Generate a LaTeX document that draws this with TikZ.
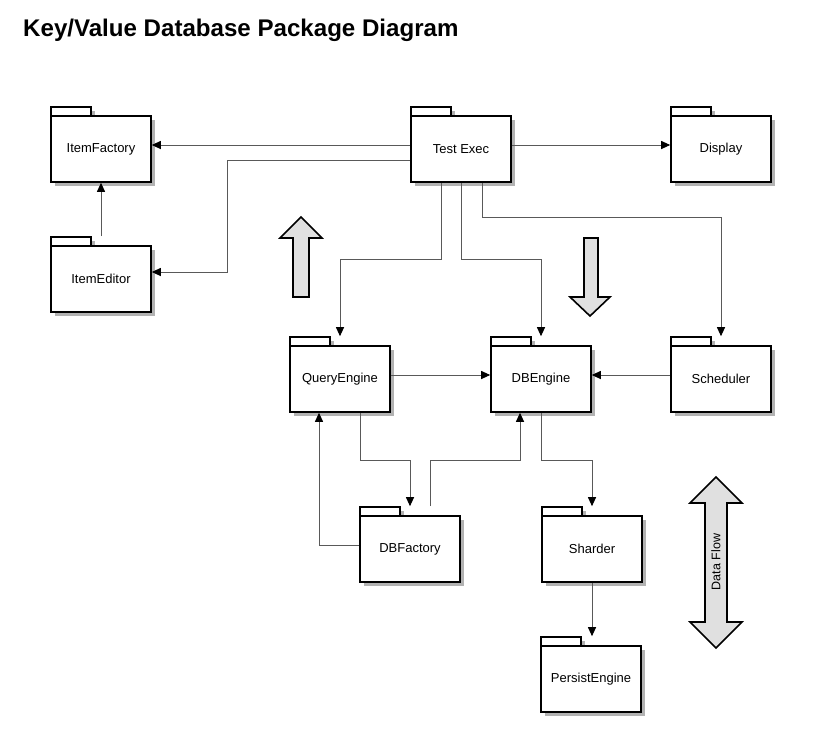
\documentclass[tikz,border=0pt]{standalone}
\usepackage{fontspec}
\setmainfont{Liberation Sans}
\usetikzlibrary{arrows.meta,shadows,calc}
\tikzset{
  pkg/.style={draw=black, line width=1.6pt, fill=white, minimum width=100pt, minimum height=66pt,
    inner sep=0pt, font=\fontsize{13}{15}\selectfont,
    drop shadow={shadow xshift=4pt, shadow yshift=-4pt, fill=black!30, opacity=1}},
  pkgtab/.style={draw=black, line width=1.4pt, fill=white,
    drop shadow={shadow xshift=4pt, shadow yshift=-4pt, fill=black!30, opacity=1}},
  conn/.style={draw=black!65, line width=1pt, -{Triangle[length=9pt,width=8pt,fill=black,color=black]}},
  blockarrow/.style={draw=black, line width=1.6pt, fill=black!12, line join=miter},
}
\newcommand\pkgnode[4]{%
  \path[pkgtab] (#2-50,#3-42) rectangle (#2-10,#3-33);
  \node[pkg] (#1) at (#2,#3) {#4};}
\begin{document}
\begin{tikzpicture}[x=1pt,y=-1pt]
\useasboundingbox[fill=white] (0,0) rectangle (826,731);
\node[anchor=base west, font=\bfseries\fontsize{24.1}{26}\selectfont, inner sep=0pt] (title) at (23,36) {Key/Value Database Package Diagram};

\pkgnode{itemfactory}{101}{149}{ItemFactory}
\pkgnode{testexec}{461}{149}{Test Exec}
\pkgnode{display}{721}{149}{Display}
\pkgnode{itemeditor}{101}{279}{ItemEditor}
\pkgnode{queryengine}{340}{379}{QueryEngine}
\pkgnode{dbengine}{541}{379}{DBEngine}
\pkgnode{scheduler}{721}{379}{Scheduler}
\pkgnode{dbfactory}{410}{549}{DBFactory}
\pkgnode{sharder}{592}{549}{Sharder}
\pkgnode{persistengine}{591}{679}{PersistEngine}

% connectors
\draw[conn] (testexec.west |- 0,145) -- (itemfactory.east |- 0,145);
\draw[conn] (testexec.east |- 0,145) -- (display.west |- 0,145);
\draw[conn] (testexec.west |- 0,160) -- (227,160) -- (227,272) -- (itemeditor.east |- 0,272);
\draw[conn] ($(itemeditor.north)+(0,-9)$) -- (itemfactory.south);
\draw[conn] ($(testexec.south)+(-20,0)$) -- (441,259) -- (340,259) -- ($(queryengine.north)+(0,-9)$);
\draw[conn] (testexec.south) -- (461,259) -- (541,259) -- ($(dbengine.north)+(0,-9)$);
\draw[conn] ($(testexec.south)+(21,0)$) -- (482,217) -- (721,217) -- ($(scheduler.north)+(0,-9)$);
\draw[conn] (queryengine.east |- 0,375) -- (dbengine.west |- 0,375);
\draw[conn] (scheduler.west |- 0,375) -- (dbengine.east |- 0,375);
\draw[conn] ($(queryengine.south)+(20,0)$) -- (360,460) -- (410,460) -- ($(dbfactory.north)+(0,-9)$);
\draw[conn] ($(dbfactory.north)+(20,-9)$) -- (430,460) -- (520,460) -- ($(dbengine.south)+(-21,0)$);
\draw[conn] (dbfactory.west |- 0,545) -- (319,545) -- ($(queryengine.south)+(-21,0)$);
\draw[conn] (dbengine.south) -- (541,460) -- (592,460) -- ($(sharder.north)+(0,-9)$);
\draw[conn] (sharder.south) -- ($(persistengine.north)+(1,-9)$);

% block arrows
\draw[blockarrow] (301,217) -- (322,238) -- (309,238) -- (309,297) -- (293,297) -- (293,238) -- (280,238) -- cycle;
\draw[blockarrow] (584,238) -- (598,238) -- (598,297) -- (610,297) -- (590,316) -- (570,297) -- (584,297) -- cycle;
\draw[blockarrow] (716,477) -- (742,503) -- (727,503) -- (727,622) -- (742,622) -- (716,648) -- (690,622) -- (705,622) -- (705,503) -- (690,503) -- cycle;
\node[rotate=90, font=\fontsize{12.5}{14}\selectfont, inner sep=0pt] (dataflow) at (716,562) {Data Flow};
\end{tikzpicture}
\end{document}
